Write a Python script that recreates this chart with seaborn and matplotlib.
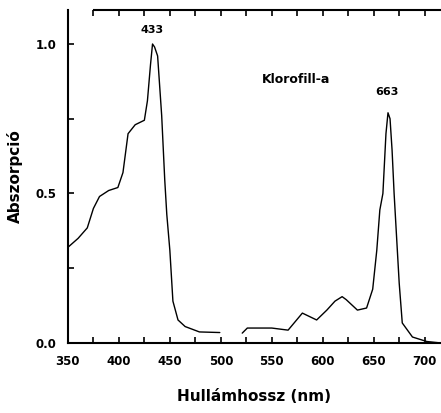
import numpy as np
import pandas as pd
import matplotlib
matplotlib.use("Agg")
import matplotlib.pyplot as plt
import seaborn as sns

# Chlorophyll-a absorption spectrum
# the scan has a break in the trace around 500-520 nm, hence two segments
wl_blue = [350, 360, 369, 375, 381, 390, 399, 404, 409, 416, 425, 428, 431, 433,
           435, 438, 442, 445, 447, 450, 453, 458, 465, 479, 499]
abs_blue = [0.32, 0.35, 0.385, 0.45, 0.49, 0.51, 0.52, 0.57, 0.70, 0.73, 0.745, 0.81, 0.93, 1.0,
            0.99, 0.96, 0.76, 0.545, 0.43, 0.31, 0.14, 0.077, 0.055, 0.037, 0.035]
wl_red = [521, 526, 540, 550, 566, 580, 594, 604, 612, 619, 623, 634, 643,
          649, 653, 656, 659, 662, 664, 666, 668, 670, 672, 675, 678, 688, 702, 716]
abs_red = [0.033, 0.05, 0.05, 0.05, 0.043, 0.10, 0.077, 0.11, 0.14, 0.155, 0.145, 0.11, 0.117,
           0.18, 0.31, 0.445, 0.50, 0.70, 0.77, 0.75, 0.645, 0.50, 0.38, 0.20, 0.067, 0.02, 0.005, 0.0]

peak_labels = ["433", "663"]
peak_x = [433, 663]
peak_y = [1.047, 0.84]

x_ticks = [350, 400, 450, 500, 550, 600, 650, 700]
y_ticks = [0.0, 0.5, 1.0]
y_ticklabels = ["0.0", "0.5", "1.0"]

df = pd.DataFrame({
    "wl": wl_blue + wl_red,
    "abs": abs_blue + abs_red,
    "seg": ["a"] * len(wl_blue) + ["b"] * len(wl_red),
})

sns.set_style("white")
plt.rcParams["font.family"] = ["DejaVu Sans"]
plt.rcParams["text.color"] = "black"
plt.rcParams["axes.labelcolor"] = "black"
plt.rcParams["xtick.color"] = "black"
plt.rcParams["ytick.color"] = "black"

fig = plt.figure(figsize=(4.41, 4.13), dpi=100)
ax = fig.add_axes([0.154, 0.1695, 0.846, 0.8065])

sns.lineplot(data=df, x="wl", y="abs", units="seg", estimator=None, sort=False,
             ax=ax, color="black", linewidth=1.0)

ax.set_xlim(350, 716)
ax.set_ylim(0, 1.114)

ax.set_xticks(x_ticks)
ax.set_xticks(np.arange(375, 716, 50), minor=True)
ax.set_yticks(y_ticks)
ax.set_yticks([0.25, 0.75], minor=True)
ax.set_xticklabels([str(v) for v in x_ticks], fontsize=8.5, fontweight="bold")
ax.set_yticklabels(y_ticklabels, fontsize=8.5, fontweight="bold")
ax.tick_params(axis="both", which="both", direction="in", length=4, width=1.2,
               color="black", top=True, bottom=True, left=True)
ax.tick_params(axis="x", pad=9)
ax.tick_params(axis="y", pad=8)

for side in ["left", "bottom", "top"]:
    ax.spines[side].set_visible(True)
    ax.spines[side].set_color("black")
    ax.spines[side].set_linewidth(1.5)
ax.spines["right"].set_visible(False)
ax.spines["top"].set_bounds(376, 716)

for lab, px, py in zip(peak_labels, peak_x, peak_y):
    ax.text(px, py, lab, ha="center", va="center", fontsize=8, fontweight="bold")
ax.text(540, 0.88, "Klorofill-a", ha="left", va="center", fontsize=9, fontweight="bold")

ax.set_xlabel("Hullámhossz (nm)", fontsize=11, fontweight="bold", labelpad=15)
ax.set_ylabel("Abszorpció", fontsize=11, fontweight="bold", labelpad=9)

fig.savefig("out.png", dpi=100)
